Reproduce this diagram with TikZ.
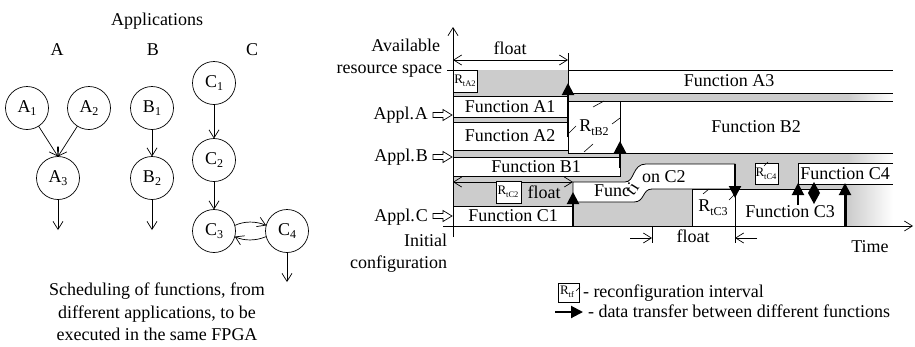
\documentclass[tikz,border=0pt]{standalone}
\usepackage{fontspec}
\setmainfont{Liberation Serif}
\usetikzlibrary{arrows.meta}
\definecolor{bg}{gray}{0.8}
\newcommand\gsub[2]{#1\raisebox{-3pt}{\fontsize{12}{12}\selectfont #2}}
\newcommand\rsm[1]{{\fontsize{13}{13}\selectfont R\raisebox{-2.5pt}{\fontsize{8.5}{8.5}\selectfont #1}}}
\newcommand\rbg[1]{{\fontsize{18}{18}\selectfont R\raisebox{-4pt}{\fontsize{12}{12}\selectfont #1}}}
\begin{document}
\begin{tikzpicture}[x=1pt,y=-1pt,font=\fontsize{18}{23}\selectfont,
 every node/.style={inner sep=0pt,outer sep=0pt},
 fn/.style={circle,draw,line width=0.7pt,minimum size=43pt,inner sep=0pt},
 oarr/.style={line width=0.7pt,-{Straight Barb[length=8pt,width=10pt]}},
 dbl/.style={line width=0.7pt,{Straight Barb[length=8pt,width=10pt]}-{Straight Barb[length=8pt,width=10pt]}},
 darr/.style={line width=2pt,-{Triangle[length=12pt,width=12pt]}},
 box/.style={draw,fill=white,line width=0.8pt},
 ln/.style={line width=0.8pt},
 hatch/.style={line width=0.6pt},
 hollow/.pic={\draw[line width=0.7pt] (-19,-2.5) -- (-9,-2.5) -- (-9,-5.5) -- (0,0) -- (-9,5.5) -- (-9,2.5) -- (-19,2.5) -- cycle;}]
\useasboundingbox (0,0) rectangle (915,346);

% ---------- left: application graphs ----------
\node[anchor=base] (apps) at (157,25) {Applications};
\node[anchor=base] (la) at (57,55) {A};
\node[anchor=base] (lb) at (153,55) {B};
\node[anchor=base] (lc) at (252,55) {C};
\node[fn] (a1) at (27,108) {\gsub{A}{1}};
\node[fn] (a2) at (89,108) {\gsub{A}{2}};
\node[fn] (a3) at (58,178) {\gsub{A}{3}};
\node[fn] (b1) at (152,108) {\gsub{B}{1}};
\node[fn] (b2) at (152,178) {\gsub{B}{2}};
\node[fn] (c1) at (214,83) {\gsub{C}{1}};
\node[fn] (c2) at (214,160) {\gsub{C}{2}};
\node[fn] (c3) at (214,231) {\gsub{C}{3}};
\node[fn] (c4) at (287,231) {\gsub{C}{4}};
\coordinate (a3o) at (58,230);
\coordinate (b2o) at (152,230);
\coordinate (c4o) at (287,282);
\draw[oarr] (a1) -- (a3.north);
\draw[oarr] (a2) -- (a3.north);
\draw[oarr] (a3) -- (a3o);
\draw[oarr] (b1) -- (b2);
\draw[oarr] (b2) -- (b2o);
\draw[oarr] (c1) -- (c2);
\draw[oarr] (c2) -- (c3);
\draw[oarr] (c3.15) .. controls (244,221) and (256,221) .. (c4.165);
\draw[oarr] (c4.195) .. controls (256,241) and (244,241) .. (c3.345);
\draw[oarr] (c4) -- (c4o);
\node[anchor=base] (cap1) at (157,295) {Scheduling of functions, from};
\node[anchor=base] (cap2) at (157,318) {different applications, to be};
\node[anchor=base] (cap3) at (157,340) {executed in the same FPGA};

% ---------- right: schedule ----------
\fill[bg] (453,70) rectangle (848,226);
\shade[left color=bg,right color=white] (848,70) rectangle (893,226);

% Function A3
\fill[white] (568,70) rectangle (893,93);
\draw[ln] (568,70) -- (893,70);
\draw[ln] (568,93) -- (893,93);
\node (fa3) at (729,81) {Function A3};
% Function B2 and R_tB2
\fill[white] (620,101) rectangle (893,153);
\draw[ln] (568,101) -- (893,101);
\draw[ln] (568,153) -- (893,153);
\node (fb2) at (756,127) {Function B2};
\draw[box] (568,101) rectangle (620,153);
\node (rb2) at (594,128) {\rbg{tB2}};
\draw[hatch] (593,107) -- (604,101);
\draw[hatch] (612,124) -- (620,118);
\draw[hatch] (568,134) -- (576,126);
\draw[hatch] (584,152) -- (593,144);
% R_tA2, A1, A2, B1
\draw[box] (453,70) rectangle (477,92);
\node (ra2) at (465,81) {\rsm{tA2}};
\draw[box] (453,96) rectangle (568,117);
\node (fa1) at (510,107) {Function A1};
\draw[box] (453,122) rectangle (568,150);
\node (fa2) at (510,136) {Function A2};
\draw[box] (453,157) rectangle (620,176);
\node (fb1) at (536,167) {Function B1};

% float (C) arrow
\draw[dbl] (453,182) -- (573,182);
\node[anchor=base] (flc) at (544,198) {float};
\draw[box] (496,181) rectangle (521,203);
\node (rc2) at (508,192) {\rsm{tC2}};
\draw[box] (453,206) rectangle (573,226);
\node (fc1) at (513,216) {Function C1};

% Function C2 (bent band)
\draw[box] (573,182) -- (625,182) .. controls (635,182) and (632,164) .. (646,164) -- (735,164) -- (735,189) -- (652,189) .. controls (642,189) and (645,202) .. (634,202) -- (573,202) -- cycle;
\node[anchor=base west] (c2a) at (594,196) {Func};
\node[anchor=base west,rotate=52] (c2b) at (633,196) {t};
\node[anchor=base west,rotate=58] (c2c) at (637,191) {i};
\node[anchor=base west] (c2d) at (642,182) {on C2};

% C3, R_tC3
\draw[box] (692,189) rectangle (735,226);
\node (rc3) at (713,208) {\rbg{tC3}};
\draw[hatch] (703,194) -- (709,189);
\draw[hatch] (729,200) -- (735,194);
\draw[box] (735,189) rectangle (846,226);
\node (fc3) at (790,212) {Function C3};
% C4, R_tC4
\draw[box] (755,163) rectangle (778,184);
\node (rc4) at (766,174) {\rsm{tC4}};
\draw[hatch] (764,166) -- (768,162);
\fill[white] (798,163) rectangle (893,184);
\draw[ln] (893,163) -- (798,163) -- (798,184) -- (893,184);
\node (fc4) at (845,174) {Function C4};

% float top
\draw[dbl] (453,60) -- (568,60);
\draw[ln] (568,53) -- (568,101);
\node[anchor=base] (flt) at (510,54) {float};
% float bottom
\draw[oarr] (630,238) -- (652,238);
\draw[oarr] (757,238) -- (735,238);
\draw[ln] (652,227) -- (652,243);
\draw[ln] (735,189) -- (735,243);
\node[anchor=base] (flb) at (693,242) {float};

% data transfer arrows
\draw[darr] (568,137) -- (568,83);
\draw[darr] (620,168) -- (620,141);
\draw[darr] (573,226) -- (573,192);
\draw[darr] (735,164) -- (735,198);
\draw[darr] (798,205) -- (798,183);
\fill (808,193) -- (814,182) -- (820,193) -- (814,204) -- cycle;
\draw[darr] (845,226) -- (845,183);

% axes
\draw[oarr] (453,237) -- (453,27);
\draw[oarr] (443,226) -- (913,226);
\draw[ln] (447,70) -- (453,70);
\node[anchor=base] (time) at (870,252) {Time};

% left labels
\node[anchor=base east] (av) at (440,51) {Available};
\node[anchor=base east] (rs) at (442,73) {resource space};
\node[anchor=base east] (apa) at (428,119) {Appl.\kern1pt A};
\node[anchor=base east] (apb) at (428,161) {Appl.\kern1pt B};
\node[anchor=base east] (apc) at (428,221) {Appl.\kern1pt C};
\pic at (452,115) {hollow};
\pic at (452,157) {hollow};
\pic at (452,216) {hollow};
\node[anchor=base east] (ini) at (447,246) {Initial};
\node[anchor=base east] (conf) at (447,268) {configuration};

% legend
\draw[box] (558,283) rectangle (579,302);
\node (rtf) at (567,292) {\rsm{tf}};
\draw[hatch] (576,291) -- (580,287);
\node[anchor=base west] (lg1) at (583,297) {- reconfiguration interval};
\draw[darr] (555,312) -- (583,312);
\node[anchor=base west] (lg2) at (588,317) {- data transfer between different functions};
\end{tikzpicture}
\end{document}
